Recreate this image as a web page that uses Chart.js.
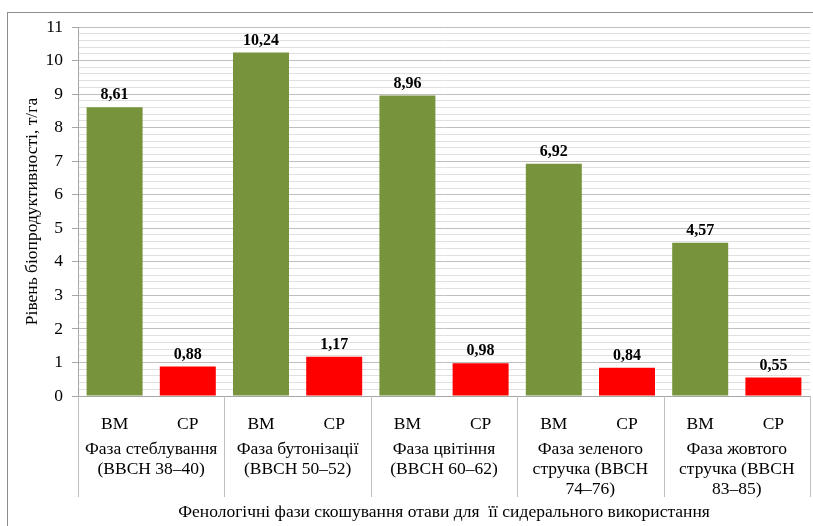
<!DOCTYPE html>
<html>
<head>
<meta charset="utf-8">
<script src="https://cdn.jsdelivr.net/npm/chart.js@4"></script>
<style>
  html, body { margin: 0; padding: 0; background: #fff; }
  #wrap { width: 813px; height: 526px; }
</style>
</head>
<body>
<div id="wrap"><canvas id="bio-chart" width="813" height="526"></canvas></div>
<script>
var seriesLabels = ["ВМ", "СР", "ВМ", "СР", "ВМ", "СР", "ВМ", "СР", "ВМ", "СР"];
var bioValues = [8.61, 0.88, 10.24, 1.17, 8.96, 0.98, 6.92, 0.84, 4.57, 0.55];
var barColors = ["#77933C", "#FF0000", "#77933C", "#FF0000", "#77933C", "#FF0000", "#77933C", "#FF0000", "#77933C", "#FF0000"];
var phaseLabels = [
  ["Фаза стеблування", "(ВВСН 38–40)"],
  ["Фаза бутонізації", "(ВВСН 50–52)"],
  ["Фаза цвітіння", "(ВВСН 60–62)"],
  ["Фаза зеленого", "стручка (ВВСН", "74–76)"],
  ["Фаза жовтого", "стручка (ВВСН", "83–85)"]
];
var yTitle = "Рівень біопродуктивності, т/га";
var xTitle = "Фенологічні фази скошування отави для  її сидерального використання";

var FONT = "'Liberation Serif', 'Times New Roman', serif";
var FS = 17.5;

function isMajor(v) {
  return Math.abs(v - Math.round(v)) < 1e-6;
}

// frame, value labels, phase labels and separators
var extras = {
  id: 'extras',
  beforeDraw: function(chart) {
    var ctx = chart.ctx;
    ctx.save();
    ctx.strokeStyle = "#8c8c8c";
    ctx.lineWidth = 1;
    ctx.strokeRect(7.5, 12.5, 900, 600);
    ctx.restore();
  },
  afterDraw: function(chart) {
    var ctx = chart.ctx;
    var x = chart.scales.x;
    var area = chart.chartArea;
    var meta = chart.getDatasetMeta(0);

    ctx.save();
    // value labels
    ctx.fillStyle = "#000";
    ctx.font = "bold 16px " + FONT;
    ctx.textAlign = "center";
    ctx.textBaseline = "bottom";
    meta.data.forEach(function(bar, i) {
      ctx.fillText(bioValues[i].toFixed(2).replace(".", ","), bar.x, bar.y - 4);
    });

    // separators between phases
    ctx.strokeStyle = "#bfbfbf";
    ctx.lineWidth = 1;
    for (var g = 0; g <= phaseLabels.length; g++) {
      var px;
      if (g === 0) px = area.left;
      else if (g === phaseLabels.length) px = area.right;
      else px = (x.getPixelForValue(2 * g - 1) + x.getPixelForValue(2 * g)) / 2;
      px = Math.round(px) + 0.5;
      ctx.beginPath();
      ctx.moveTo(px, area.bottom);
      ctx.lineTo(px, 497);
      ctx.stroke();
    }

    // phase labels
    ctx.font = FS + "px " + FONT;
    ctx.textBaseline = "middle";
    phaseLabels.forEach(function(lines, g) {
      var cx = (x.getPixelForValue(2 * g) + x.getPixelForValue(2 * g + 1)) / 2;
      lines.forEach(function(t, j) {
        ctx.fillText(t, cx, 449 + j * 20);
      });
    });
    ctx.restore();
  }
};

var bioChart = new Chart(document.getElementById("bio-chart"), {
  type: 'bar',
  data: {
    labels: seriesLabels,
    datasets: [{
      data: bioValues,
      backgroundColor: barColors,
      barPercentage: 0.765,
      categoryPercentage: 1.0
    }]
  },
  options: {
    responsive: false,
    animation: false,
    layout: { padding: { top: 27, right: 3, left: 0, bottom: 0 } },
    plugins: {
      legend: { display: false },
      tooltip: { enabled: false }
    },
    scales: {
      x: {
        grid: { display: false },
        border: { display: true, color: "#a6a6a6" },
        ticks: { color: "#000", padding: 10, font: { family: FONT, size: FS } },
        title: {
          display: true,
          text: xTitle,
          color: "#000",
          font: { family: FONT, size: FS },
          padding: { top: 0, bottom: 3 }
        },
        afterFit: function(scale) { scale.height = 130; }
      },
      y: {
        min: 0,
        max: 11,
        ticks: {
          stepSize: 0.2,
          autoSkip: false,
          color: "#000",
          padding: 9,
          font: { family: FONT, size: FS },
          callback: function(v) { return isMajor(v) ? String(Math.round(v)) : ""; }
        },
        grid: {
          tickLength: 6,
          color: function(c) { return isMajor(c.tick.value) ? "#bfbfbf" : "#e0e0e0"; },
          tickColor: function(c) { return isMajor(c.tick.value) ? "#a6a6a6" : "rgba(0,0,0,0)"; }
        },
        border: { display: true, color: "#a6a6a6" },
        title: {
          display: true,
          text: yTitle,
          color: "#000",
          font: { family: FONT, size: FS },
          padding: { top: 22, bottom: 0 }
        },
        afterFit: function(scale) { scale.width = 78; }
      }
    }
  },
  plugins: [extras]
});
</script>
</body>
</html>
